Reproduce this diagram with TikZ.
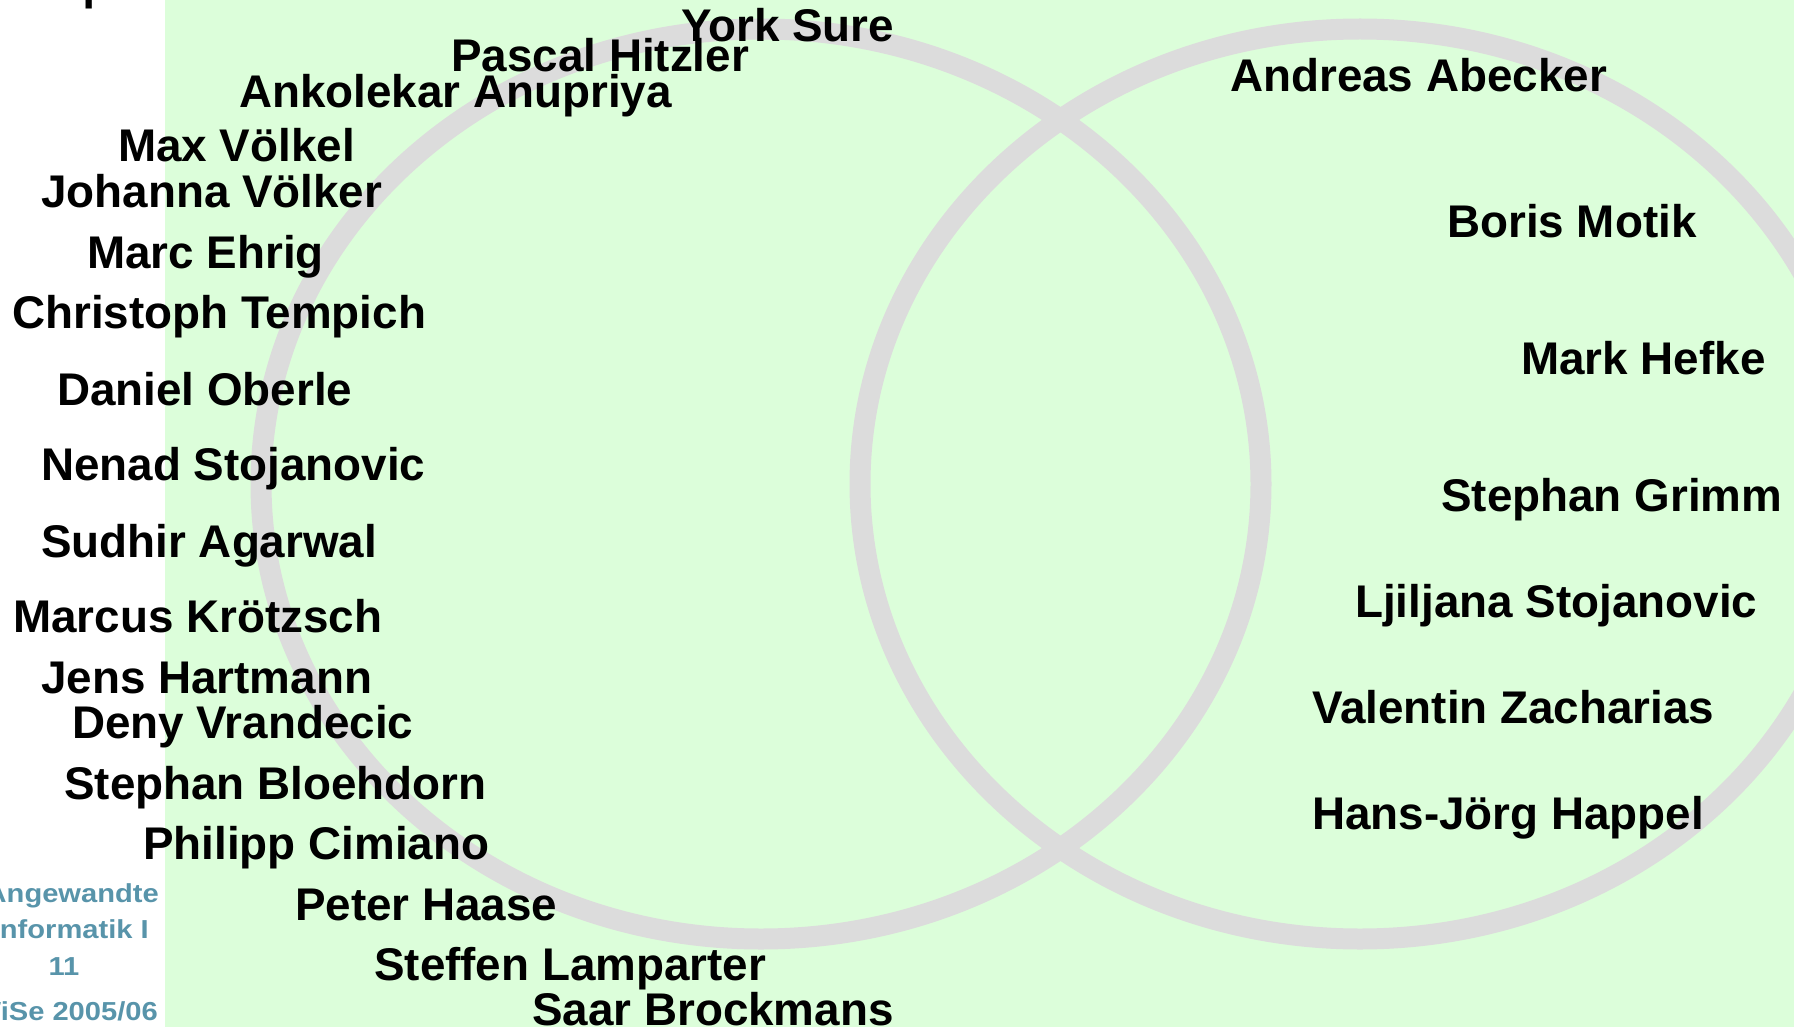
\documentclass[tikz,border=0pt]{standalone}
\usepackage{fontspec}
\setmainfont{Liberation Sans}
\definecolor{bggreen}{RGB}{220,254,218}
\definecolor{ringgray}{RGB}{220,220,220}
\definecolor{footblue}{RGB}{88,148,170}
\newcommand{\widetext}[1]{\scalebox{1.12}[1]{#1}}
\begin{document}
\begin{tikzpicture}[x=1pt,y=-1pt,
  person/.style={anchor=base west, inner sep=0pt, font=\fontsize{45.8}{54}\selectfont\bfseries},
  footer/.style={inner sep=0pt, text=footblue, font=\fontsize{26}{31}\selectfont\bfseries},
  ring/.style={draw=ringgray, line width=21pt}]
\useasboundingbox (0,0) rectangle (1794,1027);
\clip (0,0) rectangle (1794,1027);
\fill[white] (0,0) rectangle (1794,1027);
\fill[bggreen] (165,0) rectangle (1794,1027);
\draw[ring] (761,484) ellipse [x radius=500pt, y radius=455pt];
\draw[ring] (1360,484) ellipse [x radius=500pt, y radius=455pt];
% cut-off glyph at top left
\node[person] (frag) at (67,0) {q};
% left group
\node[person] (ys) at (681,42) {York Sure};
\node[person] (ph) at (451,72) {Pascal Hitzler};
\node[person] (aa) at (239,108) {Ankolekar Anupriya};
\node[person] (mv) at (118,162) {Max Völkel};
\node[person] (jv) at (41,208) {Johanna Völker};
\node[person] (me) at (87,269) {Marc Ehrig};
\node[person] (ct) at (12,328) {Christoph Tempich};
\node[person] (do) at (57,405) {Daniel Oberle};
\node[person] (ns) at (41,480) {Nenad Stojanovic};
\node[person] (sa) at (41,557) {Sudhir Agarwal};
\node[person] (mk) at (13,632) {Marcus Krötzsch};
\node[person] (jh) at (41,693) {Jens Hartmann};
\node[person] (dv) at (72,738) {Deny Vrandecic};
\node[person] (sb) at (64,799) {Stephan Bloehdorn};
\node[person] (pc) at (143,859) {Philipp Cimiano};
\node[person] (pha) at (295,920) {Peter Haase};
\node[person] (sl) at (374,980) {Steffen Lamparter};
\node[person] (sbr) at (532,1025) {Saar Brockmans};
% right group
\node[person] (ab) at (1230,92) {Andreas Abecker};
\node[person] (bm) at (1447,238) {Boris Motik};
\node[person] (mh) at (1521,374) {Mark Hefke};
\node[person] (sg) at (1441,511) {Stephan Grimm};
\node[person] (ls) at (1355,617) {Ljiljana Stojanovic};
\node[person] (vz) at (1312,723) {Valentin Zacharias};
\node[person] (hh) at (1312,829) {Hans-Jörg Happel};
% footer
\node[footer, anchor=base east] (f1) at (159,902) {\widetext{Angewandte}};
\node[footer, anchor=base east] (f2) at (149,938) {\widetext{Informatik I}};
\node[footer, anchor=base] (f3) at (64,975) {\widetext{11}};
\node[footer, anchor=base east] (f4) at (158,1020) {\widetext{WiSe 2005/06}};
\end{tikzpicture}
\end{document}
